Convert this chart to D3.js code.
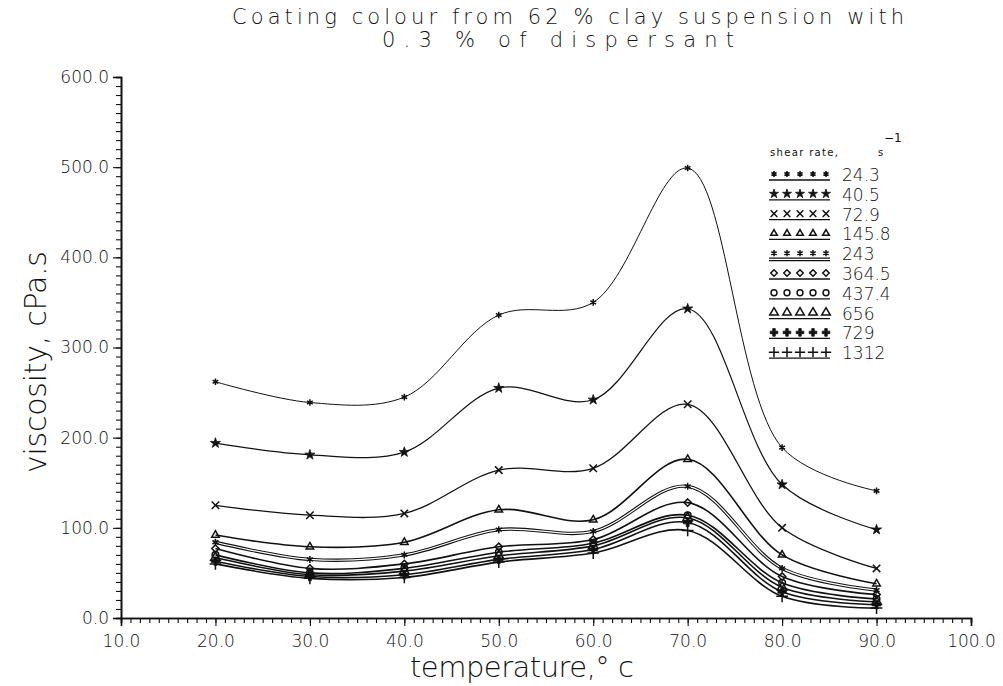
<!DOCTYPE html>
<html>
<head>
<meta charset="utf-8">
<script src="https://cdn.jsdelivr.net/npm/d3@7"></script>
<style>
  html, body { margin: 0; padding: 0; background: #fff; }
  svg text { font-family: "DejaVu Sans", sans-serif; font-weight: 200; fill: #111; }
</style>
</head>
<body>
<svg id="chart" width="1003" height="686"></svg>
<script>
// Temperatures (°C) at which viscosity was measured
const temperatures = [20, 30, 40, 50, 60, 70, 80, 90];

// Shear rates (1/s) – one curve per rate
const shearRates = ["24.3", "40.5", "72.9", "145.8", "243", "364.5", "437.4", "656", "729", "1312"];

// Viscosity (cPa.s) for each shear rate
const v24_3  = [262, 239, 245, 336, 350, 499, 189, 141];
const v40_5  = [194, 181, 184, 255, 242, 343, 148, 98];
const v72_9  = [125, 114, 116, 164, 166, 237, 100, 55];
const v145_8 = [92, 79, 84, 120, 109, 176, 70, 38];
const v243   = [84, 65, 70, 98, 96, 146, 55, 31];
const v364_5 = [77, 55, 60, 79, 87, 128, 46, 26];
const v437_4 = [70, 50, 55, 73, 83, 114, 39, 21];
const v656   = [67, 48, 52, 69, 80, 111, 34, 18];
const v729   = [63, 46, 48, 65, 76, 106, 29, 15];
const v1312  = [60, 44, 45, 62, 72, 97, 24, 11];

const seriesValues = [v24_3, v40_5, v72_9, v145_8, v243, v364_5, v437_4, v656, v729, v1312];

// Stroke width per curve: the low-shear curves are drawn finer
const strokeWidths = [1.0, 1.2, 1.3, 1.6, 1.6, 1.6, 1.6, 1.6, 1.6, 1.6];

// Axis ticks
const xTicks = [10, 20, 30, 40, 50, 60, 70, 80, 90, 100];
const yTicks = [0, 100, 200, 300, 400, 500, 600];

const titleLines = ["Coating colour from 62 % clay suspension with", "0.3 % of dispersant"];

const svg = d3.select("#chart");

const x = d3.scaleLinear().domain([10, 100]).range([121, 971]);
const y = d3.scaleLinear().domain([0, 600]).range([618, 77]);

// ---- axes ----
const xAxisMinor = d3.axisBottom(x).tickValues(d3.range(10, 101, 1)).tickSize(5).tickFormat("");
const xAxisMajor = d3.axisBottom(x).tickValues(xTicks).tickSize(8).tickFormat(d3.format(".1f")).tickPadding(6);
const yAxisMinor = d3.axisLeft(y).tickValues(d3.range(0, 601, 10)).tickSize(5).tickFormat("");
const yAxisMajor = d3.axisLeft(y).tickValues(yTicks).tickSize(8).tickFormat(d3.format(".1f")).tickPadding(4);

function styleAxis(g) {
  g.selectAll("path.domain").attr("stroke", "#111").attr("stroke-width", 1.6);
  g.selectAll("line").attr("stroke", "#111").attr("stroke-width", 1.1);
  g.selectAll("text").style("font-size", "17px").attr("fill", "#111");
}

svg.append("g").attr("transform", "translate(0,618)").call(xAxisMinor).call(styleAxis);
svg.append("g").attr("transform", "translate(0,618)").call(xAxisMajor).call(styleAxis)
  .selectAll("text").attr("dy", "0.9em");
svg.append("g").attr("transform", "translate(121,0)").call(yAxisMinor).call(styleAxis);
svg.append("g").attr("transform", "translate(121,0)").call(yAxisMajor).call(styleAxis);

// ---- titles ----
svg.append("text").attr("x", 568).attr("y", 24).attr("text-anchor", "middle")
  .attr("textLength", 672).attr("lengthAdjust", "spacing")
  .style("font-size", "21px").text(titleLines[0]);
svg.append("text").attr("x", 558).attr("y", 47).attr("text-anchor", "middle")
  .attr("textLength", 352).attr("lengthAdjust", "spacing")
  .style("font-size", "21px").text(titleLines[1]);

svg.append("text").attr("transform", "translate(46,362) rotate(-90)").attr("text-anchor", "middle")
  .attr("textLength", 222).attr("lengthAdjust", "spacing")
  .style("font-size", "30px").text("viscosity, cPa.s");

svg.append("text").attr("x", 522).attr("y", 677).attr("text-anchor", "middle")
  .attr("textLength", 224).attr("lengthAdjust", "spacing")
  .style("font-size", "29px").text("temperature,° c");

// ---- markers ----
const markerDefs = [
  { type: d3.symbolAsterisk, size: 30, fill: false },
  { type: d3.symbolStar, size: 32, fill: true },
  { type: d3.symbolTimes, size: 38, fill: false },
  { type: d3.symbolTriangle2, size: 40, fill: false },
  { type: d3.symbolAsterisk, size: 34, fill: false },
  { type: d3.symbolDiamond2, size: 34, fill: false },
  { type: d3.symbolCircle, size: 34, fill: false },
  { type: d3.symbolTriangle, size: 40, fill: false },
  { type: d3.symbolCross, size: 40, fill: true },
  { type: d3.symbolPlus, size: 46, fill: false }
];

function drawMarker(g, i, cx, cy, scale = 1) {
  const m = markerDefs[i];
  g.append("path")
    .attr("transform", `translate(${cx},${cy})`)
    .attr("d", d3.symbol().type(m.type).size(m.size * scale)())
    .attr("fill", m.fill ? "#111" : "none")
    .attr("stroke", "#111")
    .attr("stroke-width", m.fill ? 0.8 : 1.5);
}

// ---- curves ----
const line = d3.line()
  .x((d, i) => x(temperatures[i]))
  .y(d => y(d))
  .curve(d3.curveCatmullRom.alpha(0.5));

const plot = svg.append("g");
seriesValues.forEach((vals, si) => {
  if (si === 4) {
    // double-stroked curve
    plot.append("path").attr("d", line(vals)).attr("fill", "none")
      .attr("stroke", "#111").attr("stroke-width", 3.4);
    plot.append("path").attr("d", line(vals)).attr("fill", "none")
      .attr("stroke", "#fff").attr("stroke-width", 1.2);
  } else {
    plot.append("path").attr("d", line(vals)).attr("fill", "none")
      .attr("stroke", "#111").attr("stroke-width", strokeWidths[si]);
  }
});
seriesValues.forEach((vals, si) => {
  vals.forEach((v, i) => drawMarker(plot, si, x(temperatures[i]), y(v)));
});

// ---- legend ----
const legend = svg.append("g");
legend.append("text").attr("x", 770).attr("y", 156).style("font-size", "10px").style("font-weight", 400)
  .attr("textLength", 68).attr("lengthAdjust", "spacing").text("shear rate,");
legend.append("text").attr("x", 878).attr("y", 156).style("font-size", "10px").style("font-weight", 400)
  .text("s");
legend.append("text").attr("x", 884).attr("y", 142).style("font-size", "12px").style("font-weight", 400)
  .text("−1");

shearRates.forEach((r, i) => {
  const cy = 175 + i * 19.8;
  for (let k = 0; k < 5; k++) drawMarker(legend, i, 774 + k * 13, cy - 1, 0.8);
  if (i === 4) {
    legend.append("line").attr("x1", 769).attr("x2", 830).attr("y1", cy + 4).attr("y2", cy + 4)
      .attr("stroke", "#111").attr("stroke-width", 1.2);
    legend.append("line").attr("x1", 769).attr("x2", 830).attr("y1", cy + 6.5).attr("y2", cy + 6.5)
      .attr("stroke", "#111").attr("stroke-width", 1.2);
  } else {
    legend.append("line").attr("x1", 769).attr("x2", 830).attr("y1", cy + 5).attr("y2", cy + 5)
      .attr("stroke", "#111").attr("stroke-width", 1.3);
  }
  legend.append("text").attr("x", 842).attr("y", cy + 6)
    .style("font-size", "17px").text(r);
});
</script>
</body>
</html>
